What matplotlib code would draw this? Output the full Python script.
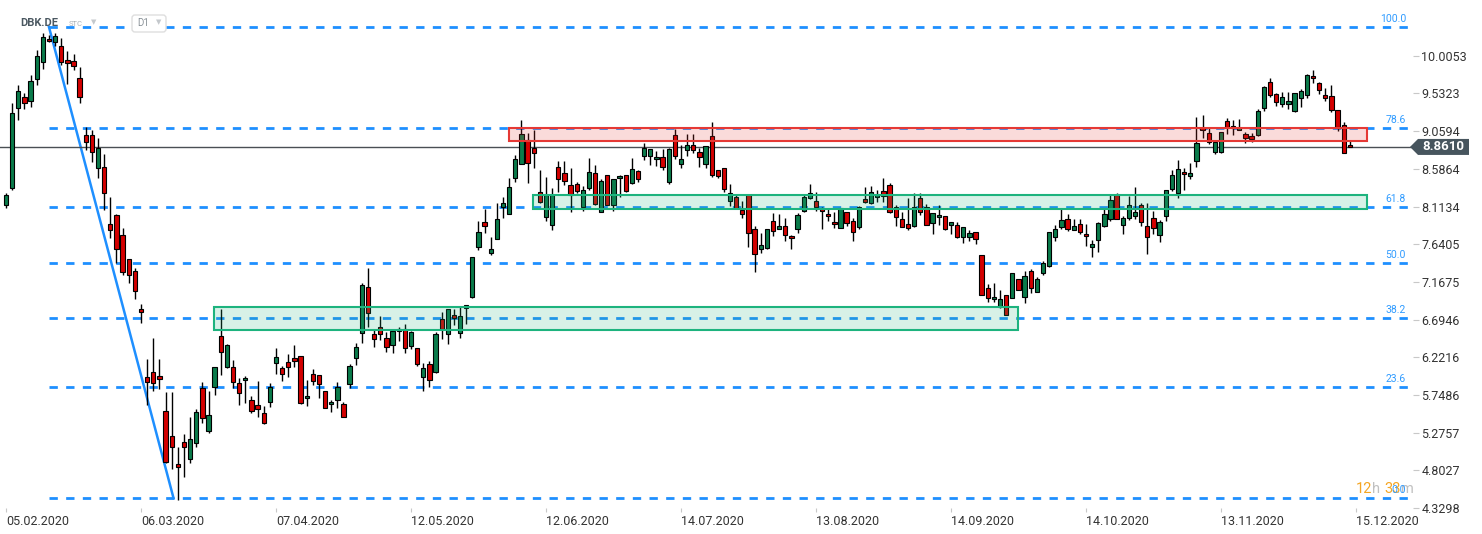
import numpy as np
import matplotlib.pyplot as plt
import matplotlib.transforms as mtransforms
from matplotlib.patches import Rectangle, Polygon, FancyBboxPatch

plt.rcParams['font.family'] = ['Roboto', 'DejaVu Sans']

# dzienne świece DBK.DE, 05.02.2020 - 14.12.2020
opens = [
    8.130, 8.344, 9.349, 9.487, 9.436, 9.713, 9.926, 10.215, 10.178, 10.127,
    9.951, 9.939, 9.725, 9.009, 9.009, 8.595, 8.607, 7.892, 8.005, 7.753,
    7.452, 7.301, 6.824, 5.970, 6.033, 5.983, 5.543, 5.229, 4.877, 5.153,
    4.940, 5.141, 5.832, 5.292, 5.844, 6.485, 6.096, 6.096, 5.895, 5.932,
    5.681, 5.618, 5.518, 5.656, 6.146, 6.083, 6.158, 6.209, 6.234, 5.706,
    6.008, 5.995, 5.794, 5.631, 5.681, 5.631, 5.882, 6.209, 6.523, 7.100,
    6.510, 6.598, 6.460, 6.372, 6.573, 6.573, 6.359, 6.334, 5.970, 6.133,
    6.033, 6.698, 6.510, 6.749, 6.523, 6.837, 6.975, 7.603, 7.917, 7.527,
    7.703, 8.105, 8.017, 8.469, 8.645, 8.947, 8.846, 8.293, 7.980, 7.879,
    8.607, 8.532, 8.381, 8.394, 8.105, 8.344, 8.532, 8.042, 8.507, 8.130,
    8.469, 8.507, 8.406, 8.557, 8.746, 8.746, 8.708, 8.733, 8.419, 9.009,
    8.645, 8.821, 8.884, 8.796, 8.645, 8.997, 8.570, 8.595, 8.181, 8.231,
    8.067, 8.256, 7.829, 7.578, 7.590, 7.929, 7.829, 7.866, 7.741, 7.829,
    8.055, 8.218, 8.181, 8.080, 8.017, 7.917, 7.841, 8.042, 7.929, 7.854,
    8.206, 8.155, 8.231, 8.306, 8.381, 8.105, 7.954, 7.892, 7.866, 8.218,
    8.105, 7.904, 7.980, 7.992, 7.879, 7.879, 7.728, 7.728, 7.791, 7.502,
    7.088, 6.950, 6.849, 7.000, 6.962, 7.201, 6.975, 7.301, 7.038, 7.276,
    7.364, 7.728, 7.854, 7.954, 7.816, 7.892, 7.766, 7.603, 7.691, 7.866,
    7.954, 8.256, 7.879, 7.967, 7.992, 8.130, 7.866, 7.967, 7.753, 7.992,
    8.331, 8.281, 8.545, 8.494, 8.683, 9.097, 9.035, 8.796, 8.796, 9.185,
    9.122, 9.072, 9.022, 8.997, 9.009, 9.349, 9.675, 9.524, 9.399, 9.399,
    9.311, 9.474, 9.512, 9.750, 9.663, 9.512, 9.499, 9.323, 9.135, 8.884,
]
highs = [
    8.281, 9.411, 9.637, 9.537, 9.763, 10.077, 10.290, 10.265, 10.290, 10.228,
    10.064, 10.027, 9.863, 9.110, 9.072, 8.972, 8.771, 8.231, 8.017, 7.841,
    7.452, 7.339, 6.887, 6.196, 6.460, 6.196, 5.781, 5.781, 5.091, 5.254,
    5.468, 5.568, 5.907, 5.794, 6.096, 6.824, 6.384, 6.183, 5.957, 5.983,
    5.731, 5.920, 5.606, 5.895, 6.334, 6.108, 6.259, 6.372, 6.234, 5.932,
    6.071, 5.995, 5.794, 5.681, 5.907, 5.656, 6.133, 6.397, 7.150, 7.339,
    6.560, 6.736, 6.535, 6.548, 6.598, 6.636, 6.548, 6.334, 6.146, 6.171,
    6.535, 6.786, 6.824, 6.824, 6.849, 6.874, 7.477, 7.929, 8.080, 7.728,
    8.155, 8.231, 8.469, 8.758, 9.198, 9.035, 9.072, 8.570, 8.482, 8.344,
    8.683, 8.683, 8.595, 8.419, 8.369, 8.720, 8.633, 8.457, 8.507, 8.457,
    8.507, 8.507, 8.720, 8.570, 8.909, 8.834, 8.808, 8.834, 8.846, 9.085,
    8.884, 9.022, 9.022, 8.846, 8.871, 9.173, 8.570, 8.595, 8.394, 8.256,
    8.181, 8.256, 7.866, 7.779, 7.829, 8.030, 8.017, 7.967, 7.753, 8.030,
    8.256, 8.394, 8.293, 8.105, 8.080, 8.042, 8.093, 8.042, 7.967, 8.118,
    8.356, 8.369, 8.319, 8.469, 8.406, 8.130, 8.042, 8.218, 8.281, 8.281,
    8.143, 8.030, 8.130, 7.992, 7.917, 7.917, 7.854, 7.816, 7.791, 7.502,
    7.138, 7.150, 7.063, 7.000, 7.276, 7.201, 7.301, 7.326, 7.226, 7.427,
    7.791, 7.879, 8.093, 8.017, 7.954, 7.954, 7.892, 7.691, 7.917, 8.080,
    8.256, 8.281, 7.992, 8.243, 8.356, 8.155, 8.155, 8.055, 7.942, 8.319,
    8.570, 8.695, 8.595, 8.658, 9.236, 9.261, 9.097, 8.947, 9.047, 9.223,
    9.198, 9.210, 9.047, 9.035, 9.336, 9.625, 9.725, 9.537, 9.549, 9.549,
    9.537, 9.587, 9.776, 9.826, 9.675, 9.600, 9.637, 9.323, 9.173, 8.934,
]
lows = [
    8.093, 8.319, 9.198, 9.336, 9.361, 9.637, 9.838, 10.178, 10.127, 9.889,
    9.650, 9.826, 9.411, 8.821, 8.670, 8.469, 8.067, 7.716, 7.402, 7.251,
    7.150, 6.950, 6.648, 5.618, 5.794, 5.819, 4.890, 4.814, 4.425, 4.714,
    4.890, 5.091, 5.392, 5.267, 5.744, 5.995, 6.083, 5.832, 5.618, 5.643,
    5.518, 5.468, 5.380, 5.593, 6.008, 5.920, 5.970, 6.096, 5.631, 5.606,
    5.869, 5.706, 5.580, 5.530, 5.580, 5.468, 5.832, 6.121, 6.397, 6.598,
    6.347, 6.435, 6.284, 6.271, 6.422, 6.271, 6.322, 6.108, 5.794, 5.844,
    6.020, 6.447, 6.384, 6.623, 6.460, 6.636, 6.962, 7.565, 7.779, 7.502,
    7.703, 7.967, 8.017, 8.419, 8.645, 8.406, 8.595, 8.155, 7.929, 7.816,
    8.293, 8.381, 8.042, 8.281, 8.055, 8.319, 8.130, 8.042, 8.130, 8.055,
    8.231, 8.293, 8.394, 8.419, 8.695, 8.633, 8.620, 8.570, 8.394, 8.708,
    8.595, 8.746, 8.783, 8.607, 8.595, 8.482, 8.469, 8.293, 8.118, 8.093,
    7.967, 7.603, 7.289, 7.527, 7.578, 7.741, 7.829, 7.678, 7.578, 7.779,
    8.042, 8.206, 8.055, 7.829, 7.929, 7.841, 7.841, 7.866, 7.678, 7.829,
    8.155, 8.143, 8.168, 8.168, 8.030, 7.866, 7.854, 7.816, 7.854, 8.005,
    7.879, 7.766, 7.879, 7.816, 7.766, 7.716, 7.653, 7.678, 7.640, 7.000,
    6.912, 6.912, 6.837, 6.749, 6.962, 7.063, 6.899, 7.025, 7.038, 7.251,
    7.352, 7.678, 7.829, 7.804, 7.816, 7.766, 7.615, 7.477, 7.540, 7.854,
    7.929, 7.954, 7.766, 7.942, 7.954, 7.866, 7.515, 7.766, 7.665, 7.929,
    8.306, 8.218, 8.319, 8.457, 8.607, 8.972, 8.896, 8.771, 8.783, 9.022,
    9.009, 9.072, 8.909, 8.921, 8.997, 9.311, 9.487, 9.374, 9.361, 9.336,
    9.298, 9.361, 9.474, 9.663, 9.524, 9.436, 9.298, 9.060, 8.783, 8.859,
]
closes = [
    8.256, 9.286, 9.562, 9.411, 9.688, 10.002, 10.240, 10.190, 10.253, 9.926,
    9.914, 9.876, 9.487, 8.921, 8.796, 8.846, 8.281, 7.816, 7.578, 7.289,
    7.251, 7.050, 6.786, 5.907, 5.895, 5.945, 4.902, 5.091, 4.840, 5.091,
    5.191, 5.530, 5.455, 5.493, 6.096, 6.284, 6.372, 5.907, 5.769, 5.957,
    5.543, 5.568, 5.392, 5.844, 6.221, 6.008, 6.096, 6.171, 5.643, 5.731,
    5.920, 5.882, 5.580, 5.656, 5.844, 5.468, 6.108, 6.347, 7.125, 6.774,
    6.447, 6.510, 6.347, 6.548, 6.548, 6.334, 6.535, 6.133, 6.083, 5.932,
    6.510, 6.573, 6.824, 6.711, 6.736, 6.874, 7.477, 7.791, 7.866, 7.578,
    7.954, 8.155, 8.356, 8.708, 9.022, 8.658, 8.783, 8.168, 8.256, 8.256,
    8.457, 8.432, 8.256, 8.306, 8.319, 8.545, 8.143, 8.432, 8.130, 8.457,
    8.494, 8.306, 8.582, 8.457, 8.846, 8.834, 8.733, 8.607, 8.834, 8.746,
    8.708, 8.884, 8.821, 8.733, 8.871, 8.507, 8.494, 8.331, 8.281, 8.093,
    8.017, 7.779, 7.515, 7.628, 7.829, 7.804, 7.866, 7.753, 7.716, 8.005,
    8.231, 8.281, 8.105, 8.055, 7.992, 7.892, 8.093, 7.904, 7.791, 8.105,
    8.168, 8.293, 8.256, 8.243, 8.042, 7.980, 7.854, 7.841, 8.105, 8.042,
    7.879, 8.030, 8.005, 7.829, 7.917, 7.728, 7.854, 7.779, 7.703, 7.000,
    6.962, 6.975, 6.950, 6.749, 7.276, 7.063, 7.238, 7.088, 7.201, 7.402,
    7.791, 7.829, 7.942, 7.829, 7.866, 7.791, 7.741, 7.640, 7.904, 8.017,
    8.193, 7.954, 7.967, 8.130, 8.042, 7.917, 7.728, 7.841, 7.917, 8.319,
    8.507, 8.582, 8.520, 8.532, 8.909, 9.072, 8.921, 8.921, 9.047, 9.110,
    9.097, 9.097, 8.972, 8.959, 9.311, 9.612, 9.512, 9.424, 9.487, 9.436,
    9.537, 9.562, 9.763, 9.725, 9.575, 9.474, 9.323, 9.110, 8.783, 8.861,
]

date_labels = ['05.02.2020', '06.03.2020', '07.04.2020', '12.05.2020', '12.06.2020',
               '14.07.2020', '13.08.2020', '14.09.2020', '14.10.2020', '13.11.2020',
               '15.12.2020']
date_pos = [0, 22, 44, 66, 88, 110, 132, 154, 176, 198, 220]

price_ticks = [4.3298, 4.8027, 5.2757, 5.7486, 6.2216, 6.6946, 7.1675,
               7.6405, 8.1134, 8.5864, 9.0594, 9.5323, 10.0053]

# Fibonacci od szczytu z lutego do dołka z marca
fib_high = 10.366
fib_low = 4.454
fib_levels = [100.0, 78.6, 61.8, 50.0, 38.2, 23.6, 0.0]
swing_start = 7
swing_end = 27.3

# strefy: (od, do, dół, góra)
red_zone = (82.0, 221.8, 8.941, 9.102)
green_zone_top = (85.9, 221.8, 8.086, 8.262)
green_zone_low = (33.9, 165.0, 6.563, 6.850)

last_price = 8.8610

opens = np.array(opens)
highs = np.array(highs)
lows = np.array(lows)
closes = np.array(closes)
x = np.arange(len(closes))

fig = plt.figure(figsize=(14.82, 5.34), dpi=100)
ax = fig.add_axes([0, 26 / 534, 1413 / 1482, 508 / 534])
x_min, x_max = -0.98, 229.3
ax.set_xlim(x_min, x_max)
ax.set_ylim(4.3298, 10.705)

blue = '#1e8fff'

# poziomy fibo (pod świecami)
for lvl in fib_levels:
    p = fib_low + (fib_high - fib_low) * lvl / 100
    ax.hlines(p, swing_start, x_max, colors=blue, lw=2, linestyles=(0, (3, 3)), zorder=1)
    ax.annotate(f'{lvl:.1f}', xy=(x_max, p), xytext=(-5, 2), textcoords='offset points',
                ha='right', va='bottom', fontsize=7.5, color='#2f9bff', zorder=7)

ax.plot([swing_start, swing_end], [fib_high, fib_low], color=blue, lw=1.8, zorder=1.5)

# linia bieżącej ceny
ax.axhline(last_price, color='#4a4f54', lw=1, zorder=1.8)

# świece
up = closes >= opens
colors = np.where(up, '#0a7b4b', '#d40000')
ax.vlines(x, lows, highs, color='black', lw=1, zorder=2)
body_bottom = np.minimum(opens, closes)
body_h = np.maximum(np.abs(closes - opens), 0.025)
ax.bar(x, body_h, bottom=body_bottom, width=0.7, color=colors,
       edgecolor='black', linewidth=0.8, zorder=3)

# strefy
for (x0, x1, y0, y1), face, edge in [
        (red_zone, (0.898, 0.224, 0.208, 0.18), '#e53935'),
        (green_zone_top, (0.149, 0.71, 0.498, 0.18), '#1db37e'),
        (green_zone_low, (0.149, 0.71, 0.498, 0.18), '#1db37e')]:
    ax.add_patch(Rectangle((x0, y0), x1 - x0, y1 - y0, facecolor=face,
                           edgecolor=edge, lw=1.5, zorder=6))

# osie
for s in ax.spines.values():
    s.set_visible(False)
ax.yaxis.tick_right()
ax.set_yticks(price_ticks)
ax.set_yticklabels([f'{v:.4f}' for v in price_ticks])
ax.tick_params(axis='y', length=4, color='#c8c8c8', labelsize=9, labelcolor='#333333', pad=2)
ax.set_xticks(date_pos)
ax.set_xticklabels(date_labels, ha='left')
ax.tick_params(axis='x', length=3, color='#c8c8c8', labelsize=9, labelcolor='#333333', pad=2)

# znacznik ceny po prawej
anchor = mtransforms.blended_transform_factory(fig.transFigure, ax.transData)
badge_tr = fig.dpi_scale_trans + mtransforms.ScaledTranslation(1410 / 1482, last_price, anchor)
badge = Polygon([(0, 0), (0.08, 0.08), (0.59, 0.08), (0.59, -0.08), (0.08, -0.08)],
                closed=True, facecolor='#47555e', edgecolor='none', transform=badge_tr)
fig.add_artist(badge)
fig.text(0.12, 0, f'{last_price:.4f}', transform=badge_tr, ha='left', va='center',
         fontsize=9.5, fontweight='bold', color='white')

# nagłówek
fig.text(20 / 1482, 1 - 23 / 534, 'DBK.DE', fontsize=8, fontweight='bold',
         color='#4b5861', va='center')
fig.text(69 / 1482, 1 - 24 / 534, 'STC', fontsize=5.5, color='#aab0b6', va='center')
fig.text(91 / 1482, 1 - 22 / 534, '▼', fontsize=5, color='#c4c8cc', va='center',
         family='DejaVu Sans')
fig.add_artist(FancyBboxPatch((1.32, 5.02), 0.34, 0.17,
                              boxstyle='round,pad=0,rounding_size=0.03',
                              transform=fig.dpi_scale_trans, facecolor='white',
                              edgecolor='#dedede', lw=1))
fig.text(137 / 1482, 1 - 23 / 534, 'D1', fontsize=7, color='#8a9298', va='center')
fig.text(156 / 1482, 1 - 22 / 534, '▼', fontsize=5, color='#c4c8cc', va='center',
         family='DejaVu Sans')

# licznik do końca świecy
t = fig.text(1356 / 1482, 1 - 489 / 534, '12', fontsize=10.5, color='#f5a623', va='center')
for part, col in [('h ', '#c0c0c0'), ('33', '#f5a623'), ('m', '#c0c0c0')]:
    t = ax.annotate(part, xy=(1, 0), xycoords=t, va='bottom', ha='left',
                    fontsize=10.5, color=col, annotation_clip=False)

fig.savefig('out.png', dpi=100)
